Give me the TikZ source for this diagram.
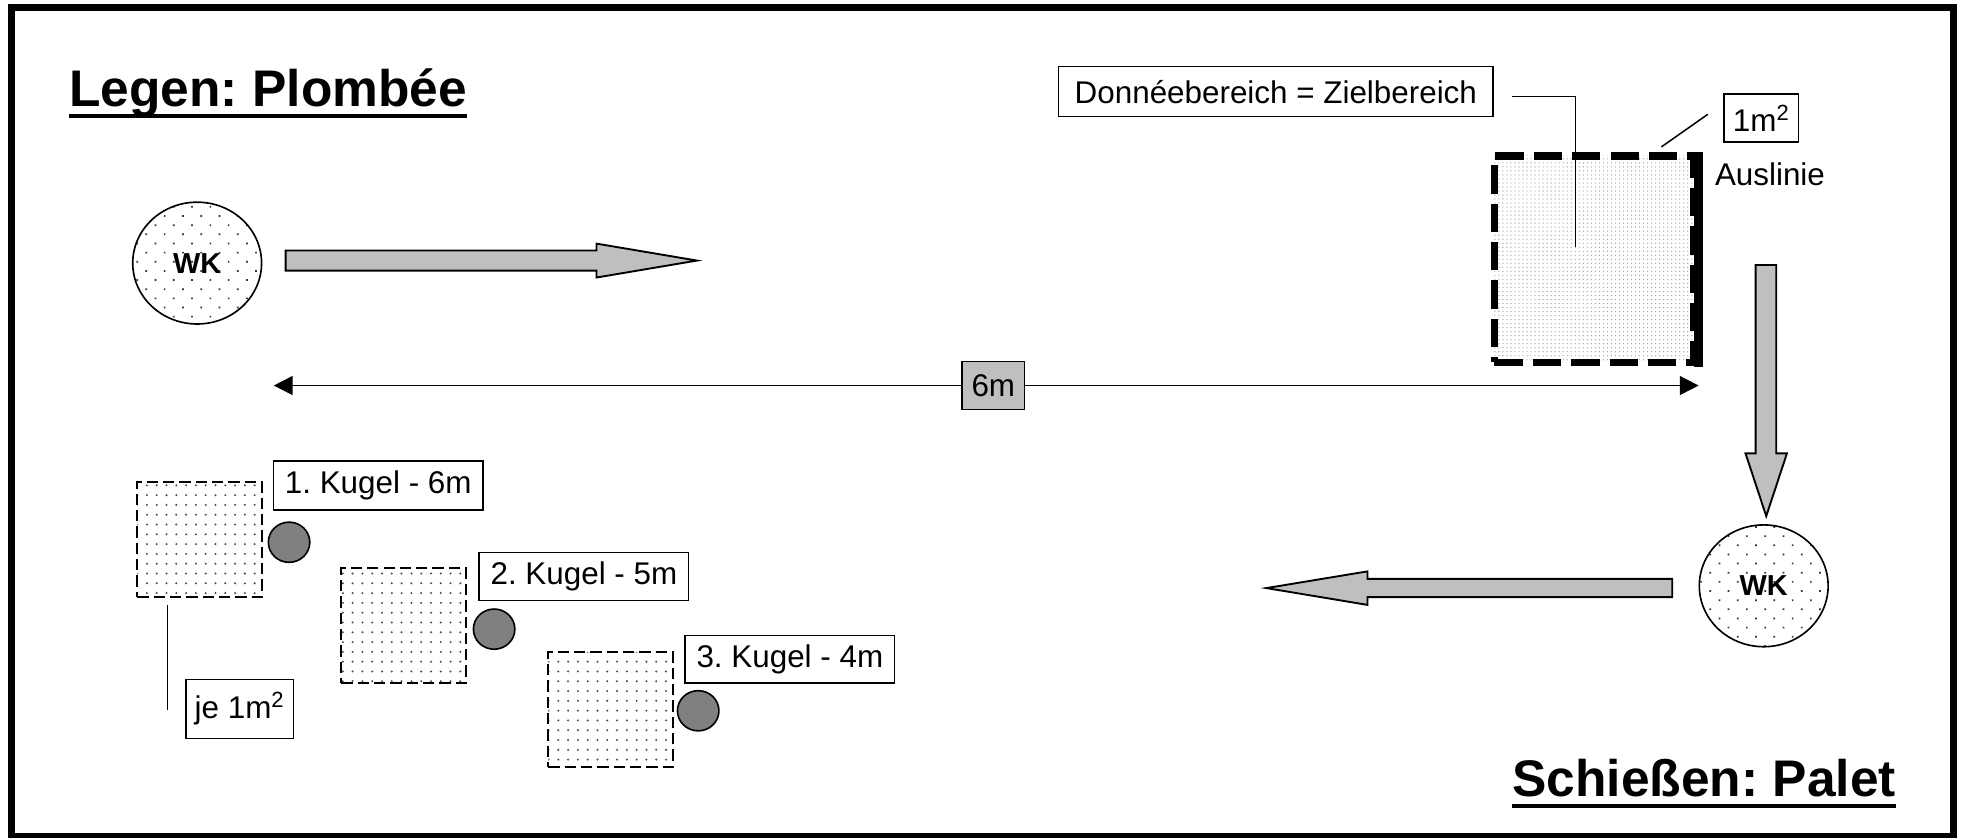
\documentclass[tikz,border=0pt]{standalone}
\usepackage{fontspec}
\setmainfont{Liberation Sans}
\usetikzlibrary{shapes.geometric,patterns.meta,arrows.meta}
\frenchspacing
\begin{document}
\begin{tikzpicture}[x=1pt,y=-1pt,
  lbl/.style={draw, line width=1.1pt, inner sep=0pt, fill=white, font=\fontsize{25}{30}\selectfont},
  ttl/.style={inner sep=0pt, font=\fontsize{41}{48}\selectfont\bfseries},
  wk/.style={ellipse, draw, line width=1.3pt, minimum width=102.6pt, minimum height=97pt, inner sep=0pt,
    pattern={Dots[radius=0.95pt,distance=10.3pt,angle=45]}, pattern color=black!80,
    font=\fontsize{23}{28}\selectfont\bfseries},
  sqbox/.style={draw, dash pattern=on 9pt off 4pt, line width=1.6pt, minimum width=99pt, minimum height=91.5pt,
    inner sep=0pt, pattern={Dots[radius=0.9pt,distance=7.8pt]}, pattern color=black!70},
  ball/.style={ellipse, draw, line width=1.3pt, fill=gray, minimum width=33pt, minimum height=32pt, inner sep=0pt},
  blockarrow/.style={draw, line width=1.5pt, fill=gray!50, line join=miter},
  leader/.style={line width=1.2pt}
]
\useasboundingbox (0,0) rectangle (1564,667.3);
% frame
\draw[line width=5.6pt] (9.2,6) rectangle (1555.4,666);

% titles
\node[ttl, anchor=base west] (t1) at (55,85) {Legen: Plombée};
\draw[line width=3.2pt] ([yshift=-7pt]t1.base west) -- ([yshift=-7pt]t1.base east);
\node[ttl, anchor=base east] (t2) at (1510,634) {Schießen: Palet};
\draw[line width=3.2pt] ([yshift=-8pt]t2.base west) -- ([yshift=-8pt]t2.base east);

% WK circles
\node[wk] (wk1) at (157,209.5) {WK};
\node[wk] (wk2) at (1404.5,466.5) {WK};

% block arrows
\draw[blockarrow] (227.5,199.5) -- (475,199.5) -- (475,194) -- (555,207.5) -- (475,221) -- (475,215.5) -- (227.5,215.5) -- cycle;
\draw[blockarrow] (1398,211) -- (1414.5,211) -- (1414.5,361) -- (1423,361) -- (1406.5,411) -- (1390,361) -- (1398,361) -- cycle;
\draw[blockarrow] (1331.7,461) -- (1089,461) -- (1089,455) -- (1008.5,468.3) -- (1089,481.7) -- (1089,475.5) -- (1331.7,475.5) -- cycle;

% target area
\node[draw, line width=5.8pt, dash pattern=on 22.6pt off 8pt, minimum width=159pt, minimum height=164.3pt, inner sep=0pt,
  pattern={Dots[radius=0.55pt,distance=3.2pt]}, pattern color=black!35] (ziel) at (1269.5,206.35) {};
\draw[line width=7pt] (1352.5,121) -- (1352.5,292);

% labels top right
\node[lbl, minimum width=346pt, minimum height=40pt] (don) at (1016,73) {Donnéebereich = Zielbereich};
\coordinate (donA) at (1204,77);
\coordinate (donB) at (1254.5,197);
\draw[leader] (donA) -| (donB);

\node[lbl, minimum width=59pt, minimum height=38pt] (qm) at (1402.5,94) {1m\textsuperscript{2}};
\coordinate (qmA) at (1323,117);
\coordinate (qmB) at (1360,91);
\draw[leader] (qmA) -- (qmB);

\node[anchor=base west, inner sep=0pt, font=\fontsize{25}{30}\selectfont] (aus) at (1365.5,148) {Auslinie};

% 6m dimension
\coordinate (dimL) at (218,307);
\coordinate (dimR) at (1352.7,307);
\draw[line width=1.3pt, {Triangle[length=15pt,width=15pt]}-{Triangle[length=15pt,width=15pt]}] (dimL) -- (dimR);
\node[lbl, fill=gray!50, minimum width=50pt, minimum height=38pt] (six) at (791,307) {6m};

% lower left squares and balls
\node[sqbox] (s1) at (158.8,429.5) {};
\node[sqbox] (s2) at (321.4,498.2) {};
\node[sqbox] (s3) at (486.2,565) {};
\node[ball] (b1) at (230.2,431.8) {};
\node[ball] (b2) at (393.5,501) {};
\node[ball] (b3) at (556,566) {};
\node[lbl, minimum width=167pt, minimum height=39pt] (k1) at (301.2,386.5) {1. Kugel - 6m};
\node[lbl, minimum width=167pt, minimum height=38pt] (k2) at (465,459) {2. Kugel - 5m};
\node[lbl, minimum width=167pt, minimum height=38pt] (k3) at (629,525) {3. Kugel - 4m};

\node[lbl, minimum width=85.5pt, minimum height=47pt] (je) at (190.75,564.5) {je 1m\textsuperscript{2}};
\coordinate (jeA) at (133.2,481.7);
\coordinate (jeB) at (133.2,565.3);
\draw[leader] (jeA) -- (jeB);
\end{tikzpicture}
\end{document}
